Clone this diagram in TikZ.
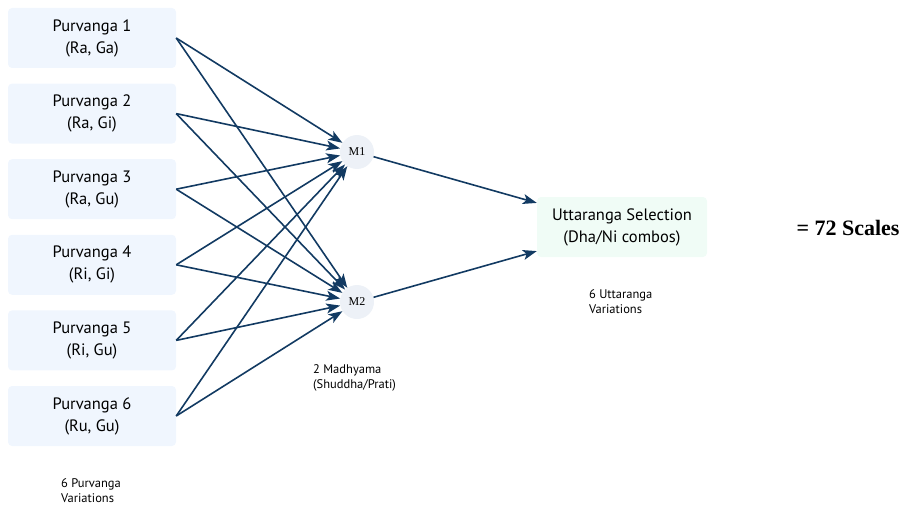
\documentclass[tikz,border=0pt]{standalone}
\usepackage{fontspec}
\setmainfont{PT Sans}
\newfontfamily\serifface{Liberation Serif}
\usetikzlibrary{positioning,arrows.meta}
\usepackage{xcolor}
\definecolor{ink}{RGB}{18,58,98}
\definecolor{purfill}{RGB}{240,246,254}
\definecolor{uttfill}{RGB}{240,252,246}
\definecolor{mfill}{RGB}{237,241,247}

\begin{document}
\begin{tikzpicture}[x=1pt,y=-1pt,
  purbox/.style={fill=purfill, rounded corners=4pt, minimum width=168pt,
    minimum height=60pt, align=center, inner sep=0pt,
    font=\fontsize{16.5}{22}\selectfont},
  uttbox/.style={purbox, fill=uttfill, minimum width=170pt},
  madhya/.style={circle, fill=mfill, minimum size=34pt, inner sep=0pt,
    font=\serifface\fontsize{12}{13}\selectfont},
  note/.style={align=left, inner sep=0pt, font=\fontsize{12.5}{15}\selectfont},
  link/.style={draw=ink, line width=1.6pt,
    -{Stealth[length=14pt,width=10pt,inset=3.5pt]}}]
\useasboundingbox (0,0) rectangle (907,508);

% purvanga column
\foreach \i/\sw [count=\k from 0] in {1/{Ra, Ga},2/{Ra, Gi},3/{Ra, Gu},4/{Ri, Gi},5/{Ri, Gu},6/{Ru, Gu}}
  \node[purbox] (p\i) at (92,38+75.6*\k) {Purvanga \i\\(\sw)};

% madhyama choice
\node[madhya] (m1) at (357,152) {M1};
\node[madhya] (m2) at (357,302) {M2};

\node[uttbox] (utt) at (622,227) {Uttaranga Selection\\(Dha/Ni combos)};

\node[font=\serifface\bfseries\fontsize{22}{24}\selectfont] (total) at (848,228) {= 72 Scales};

\foreach \i in {1,...,6} {
  \draw[link] (p\i.east) -- (m1);
  \draw[link] (p\i.east) -- (m2);
}
\draw[link] (m1) -- (utt);
\draw[link] (m2) -- (utt);

% counts
\node[note, anchor=north west] (pnote) at (61,478) {6 Purvanga\\Variations};
\node[note, anchor=north west] (mnote) at (313,364) {2 Madhyama\\(Shuddha/Prati)};
\node[note, anchor=north west] (unote) at (589,289) {6 Uttaranga\\Variations};
\end{tikzpicture}
\end{document}
